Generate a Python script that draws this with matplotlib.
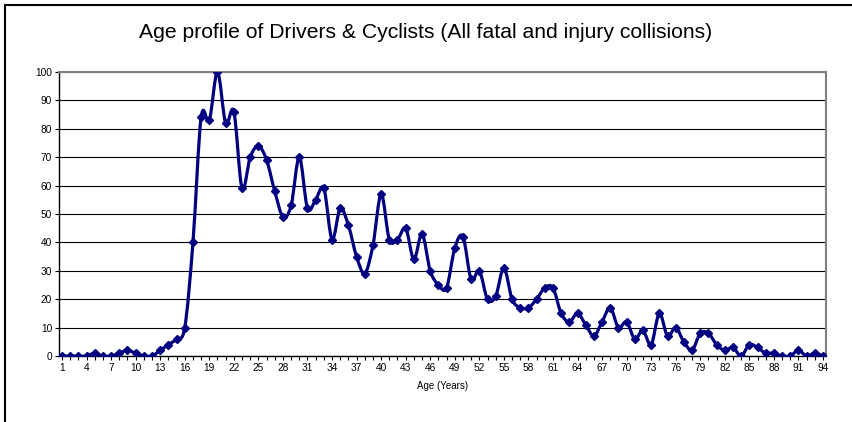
import matplotlib.pyplot as plt
from matplotlib.path import Path
from matplotlib.patches import PathPatch
from matplotlib.lines import Line2D

plt.rcParams['font.family'] = ['Liberation Sans', 'DejaVu Sans']

# Data
ages = list(range(1, 95))
counts = [0, 0, 0, 0, 1, 0, 0, 1, 2, 1,
          0, 0, 2, 4, 6, 10, 40, 84, 83, 100,
          82, 86, 59, 70, 74, 69, 58, 49, 53, 70,
          52, 55, 59, 41, 52, 46, 35, 29, 39, 57,
          41, 41, 45, 34, 43, 30, 25, 24, 38, 42,
          27, 30, 20, 21, 31, 20, 17, 17, 20, 24,
          24, 15, 12, 15, 11, 7, 12, 17, 10, 12,
          6, 9, 4, 15, 7, 10, 5, 2, 8, 8,
          4, 2, 3, 0, 4, 3, 1, 1, 0, 0,
          2, 0, 1, 0]
tick_labels = [str(a) for a in ages[::3]]

fig = plt.figure(figsize=(8.52, 4.22), dpi=100)
ax = fig.add_axes([59 / 852, 66 / 422, 767 / 852, 284 / 422])

# smoothed line (bezier through the data points, like Excel's smoothed line)
verts = [(ages[0], counts[0])]
codes = [Path.MOVETO]
n = len(ages)
for i in range(n - 1):
    x0, y0 = ages[max(i - 1, 0)], counts[max(i - 1, 0)]
    x1, y1 = ages[i], counts[i]
    x2, y2 = ages[i + 1], counts[i + 1]
    x3, y3 = ages[min(i + 2, n - 1)], counts[min(i + 2, n - 1)]
    verts += [(x1 + (x2 - x0) / 6, y1 + (y2 - y0) / 6),
              (x2 - (x3 - x1) / 6, y2 - (y3 - y1) / 6),
              (x2, y2)]
    codes += [Path.CURVE4] * 3
ax.add_patch(PathPatch(Path(verts, codes), facecolor='none', edgecolor='#000080',
                       linewidth=2.3, zorder=3))
ax.plot(ages, counts, linestyle='none', marker='D', markersize=4,
        color='#000080', zorder=4)

ax.set_xlim(0.63, 94.37)
ax.set_ylim(0, 100)
ax.set_yticks(range(0, 101, 10))
ax.set_xticks(ages[::3])
ax.set_xticklabels(tick_labels)
ax.set_xticks(ages, minor=True)
ax.tick_params(axis='both', labelsize=7.3, direction='out', length=3, width=0.8, pad=2)
ax.tick_params(axis='x', which='minor', direction='out', length=3, width=0.8)
ax.yaxis.grid(True, color='black', linewidth=0.8)
ax.set_axisbelow(True)

for side in ['top', 'right']:
    ax.spines[side].set_color('#808080')
    ax.spines[side].set_linewidth(1.5)
ax.spines['left'].set_linewidth(1.0)
ax.spines['bottom'].set_linewidth(1.0)

ax.set_xlabel('Age (Years)', fontsize=7, labelpad=6)
fig.text(0.5, 389 / 422, 'Age profile of Drivers & Cyclists (All fatal and injury collisions)',
         ha='center', va='center', fontsize=15.2)

# outer chart border (top and left visible)
fig.add_artist(Line2D([5 / 852, 1], [417 / 422, 417 / 422], color='black', linewidth=1.5,
                      transform=fig.transFigure))
fig.add_artist(Line2D([5 / 852, 5 / 852], [0, 417 / 422], color='black', linewidth=1.5,
                      transform=fig.transFigure))

fig.savefig('out.png', dpi=100)
